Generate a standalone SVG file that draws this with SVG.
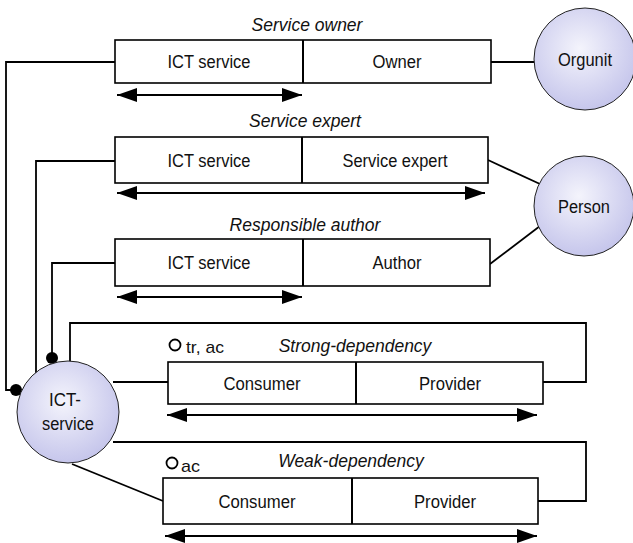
<svg xmlns="http://www.w3.org/2000/svg" width="633" height="543" viewBox="0 0 633 543">
  <defs>
    <radialGradient id="entityFill" cx="45%" cy="40%" r="65%">
      <stop offset="0" stop-color="#f4f4fc"/>
      <stop offset="1" stop-color="#c2c2ea"/>
    </radialGradient>
    <marker id="head" viewBox="0 0 20 14" refX="20" refY="7" markerWidth="20" markerHeight="14" markerUnits="userSpaceOnUse" orient="auto-start-reverse">
      <path d="M0,0 L20,7 L0,14 Z" fill="#000"/>
    </marker>
    <style>
      .box { fill: #fff; stroke: #000; stroke-width: 1.6; }
      .div { stroke: #000; stroke-width: 2; }
      .entity { fill: url(#entityFill); stroke: #222; stroke-width: 1; }
      .line { fill: none; stroke: #000; stroke-width: 1.8; }
      .dir { fill: none; stroke: #000; stroke-width: 2; marker-start: url(#head); marker-end: url(#head); }
      .t { font-family: "Liberation Sans", Arial, sans-serif; font-size: 18px; fill: #111; text-anchor: middle; }
      .lbl { font-family: "Liberation Sans", Arial, sans-serif; font-size: 17.5px; font-style: italic; fill: #111; text-anchor: middle; }
      .small { font-family: "Liberation Sans", Arial, sans-serif; font-size: 17px; fill: #111; }
      .dot { fill: #000; }
      .ring { fill: none; stroke: #000; stroke-width: 1.8; }
    </style>
  </defs>

  <!-- connectors -->
  <g id="connectors">
    <!-- ICT-service to relation tables -->
    <polyline class="line" points="115,62 6,62 6,390 16,390"/>
    <polyline class="line" points="115,161 36,161 36,373"/>
    <polyline class="line" points="115,263 52,263 52,358"/>
    <polyline class="line" points="70,362 70,323 586,323 586,382 543,382"/>
    <line class="line" x1="113" y1="382" x2="168" y2="382"/>
    <polyline class="line" points="113,442 586,442 586,501 538,501"/>
    <line class="line" x1="72" y1="464" x2="163" y2="501"/>
    <!-- tables to entities -->
    <line class="line" x1="491" y1="62" x2="535" y2="62"/>
    <line class="line" x1="488" y1="160" x2="540" y2="184"/>
    <line class="line" x1="490" y1="264" x2="540" y2="226"/>
    <!-- uniqueness arrows -->
    <line class="dir" x1="117" y1="95" x2="302" y2="95"/>
    <line class="dir" x1="117" y1="193" x2="485" y2="193"/>
    <line class="dir" x1="117" y1="297" x2="302" y2="297"/>
    <line class="dir" x1="167" y1="415" x2="537" y2="415"/>
    <line class="dir" x1="165" y1="536" x2="537" y2="536"/>
    <!-- mandatory-role dots -->
    <circle class="dot" cx="16" cy="390" r="6"/>
    <circle class="dot" cx="52" cy="358" r="6"/>
  </g>

  <!-- entity types -->
  <g id="orgunit">
    <circle class="entity" cx="585" cy="59" r="51"/>
    <text class="t" x="585" y="66" textLength="54" lengthAdjust="spacingAndGlyphs">Orgunit</text>
  </g>
  <g id="person">
    <circle class="entity" cx="584" cy="206" r="50"/>
    <text class="t" x="584" y="213" textLength="52" lengthAdjust="spacingAndGlyphs">Person</text>
  </g>
  <g id="ict-service">
    <circle class="entity" cx="68" cy="412" r="51"/>
    <text class="t" x="65" y="406" textLength="32" lengthAdjust="spacingAndGlyphs">ICT-</text>
    <text class="t" x="68" y="430" textLength="52" lengthAdjust="spacingAndGlyphs">service</text>
  </g>

  <!-- Service owner -->
  <g id="service-owner">
    <text class="lbl" x="307" y="31">Service owner</text>
    <rect class="box" x="115" y="40" width="376" height="43"/>
    <line class="div" x1="303" y1="40" x2="303" y2="83"/>
    <text class="t" x="209" y="68" textLength="83" lengthAdjust="spacingAndGlyphs">ICT service</text>
    <text class="t" x="397" y="68" textLength="49" lengthAdjust="spacingAndGlyphs">Owner</text>
  </g>

  <!-- Service expert -->
  <g id="service-expert">
    <text class="lbl" x="305" y="127">Service expert</text>
    <rect class="box" x="115" y="137" width="373" height="46"/>
    <line class="div" x1="302" y1="137" x2="302" y2="183"/>
    <text class="t" x="209" y="167" textLength="83" lengthAdjust="spacingAndGlyphs">ICT service</text>
    <text class="t" x="395" y="167" textLength="105" lengthAdjust="spacingAndGlyphs">Service expert</text>
  </g>

  <!-- Responsible author -->
  <g id="responsible-author">
    <text class="lbl" x="305" y="231">Responsible author</text>
    <rect class="box" x="115" y="239" width="375" height="47"/>
    <line class="div" x1="303" y1="239" x2="303" y2="286"/>
    <text class="t" x="209" y="269" textLength="83" lengthAdjust="spacingAndGlyphs">ICT service</text>
    <text class="t" x="397" y="269" textLength="49" lengthAdjust="spacingAndGlyphs">Author</text>
  </g>

  <!-- Strong-dependency -->
  <g id="strong-dependency">
    <circle class="ring" cx="175" cy="345" r="5.5"/>
    <text class="small" x="186" y="353" textLength="38" lengthAdjust="spacingAndGlyphs">tr, ac</text>
    <text class="lbl" x="355" y="352">Strong-dependency</text>
    <rect class="box" x="168" y="362" width="375" height="42"/>
    <line class="div" x1="356" y1="362" x2="356" y2="404"/>
    <text class="t" x="262" y="390" textLength="77" lengthAdjust="spacingAndGlyphs">Consumer</text>
    <text class="t" x="450" y="390" textLength="62" lengthAdjust="spacingAndGlyphs">Provider</text>
  </g>

  <!-- Weak-dependency -->
  <g id="weak-dependency">
    <circle class="ring" cx="172" cy="463" r="5.5"/>
    <text class="small" x="181" y="472" textLength="19" lengthAdjust="spacingAndGlyphs">ac</text>
    <text class="lbl" x="351" y="467">Weak-dependency</text>
    <rect class="box" x="163" y="478" width="375" height="46"/>
    <line class="div" x1="352" y1="478" x2="352" y2="524"/>
    <text class="t" x="257" y="508" textLength="77" lengthAdjust="spacingAndGlyphs">Consumer</text>
    <text class="t" x="445" y="508" textLength="62" lengthAdjust="spacingAndGlyphs">Provider</text>
  </g>
</svg>
